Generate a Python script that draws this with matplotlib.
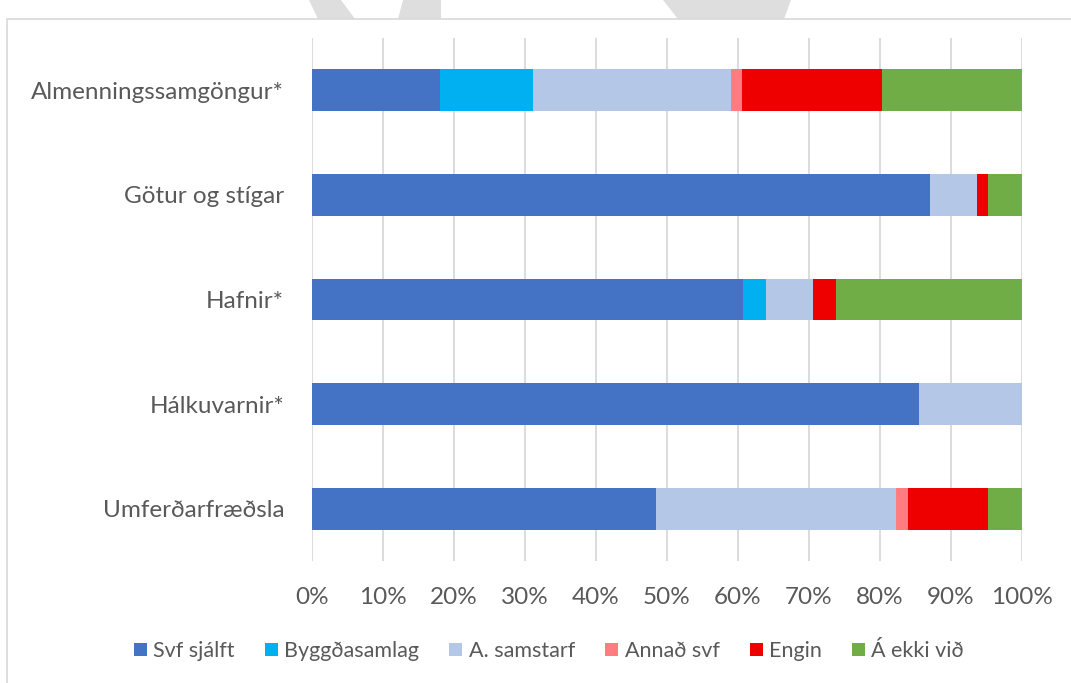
import matplotlib
matplotlib.use("Agg")
import matplotlib.pyplot as plt
from matplotlib.patches import Patch, Rectangle, Polygon
from matplotlib.ticker import PercentFormatter, MultipleLocator

plt.rcParams['font.family'] = ['Lato', 'DejaVu Sans']

categories = ["Almenningssamgöngur*", "Götur og stígar", "Hafnir*", "Hálkuvarnir*", "Umferðarfræðsla"]
series_names = ["Svf sjálft", "Byggðasamlag", "A. samstarf", "Annað svf", "Engin", "Á ekki við"]
svf_sjalft   = [18.0, 87.1, 60.7, 85.5, 48.4]
byggdasamlag = [13.1,  0.0,  3.3,  0.0,  0.0]
a_samstarf   = [27.9,  6.5,  6.5, 14.5, 33.9]
annad_svf    = [ 1.6,  0.0,  0.0,  0.0,  1.6]
engin        = [19.7,  1.6,  3.3,  0.0, 11.3]
a_ekki_vid   = [19.7,  4.8, 26.2,  0.0,  4.8]
colors = ["#4472C4", "#00B0F0", "#B4C7E7", "#FF7C80", "#EE0000", "#70AD47"]

series = [svf_sjalft, byggdasamlag, a_samstarf, annad_svf, engin, a_ekki_vid]

W, H = 1071, 683
fig = plt.figure(figsize=(W/100, H/100), dpi=100)

# faint watermark fragments above chart border
wm = "#DEDEDE"
for poly in [[(309, 0), (341, 0), (355, 19), (318, 19)],
             [(403, 0), (441, 0), (441, 19), (398, 19)],
             [(663, 0), (791, 0), (784, 19), (678, 19)]]:
    fig.patches.append(Polygon([(x / W, 1 - y / H) for x, y in poly], closed=True,
                               transform=fig.transFigure, facecolor=wm, edgecolor='none', zorder=0))
# chart area border
fig.patches.append(Rectangle((7 / W, -0.05), 1.2, 1 - 19 / H + 0.05, transform=fig.transFigure,
                             facecolor='white', edgecolor='#D9D9D9', linewidth=1.2, zorder=1))

ax = fig.add_axes([312 / W, 1 - 561 / H, (1022 - 312) / W, (561 - 38) / H])
ax.set_zorder(2)
ax.patch.set_alpha(0)

y = list(range(len(categories)))
left = [0.0] * len(categories)
for name, vals, c in zip(series_names, series, colors):
    ax.barh(y, vals, left=left, height=0.40, color=c, label=name, zorder=3)
    left = [l + v for l, v in zip(left, vals)]

ax.set_xlim(0, 100)
ax.set_ylim(len(categories) - 0.5, -0.5)
ax.set_yticks(y)
ax.set_yticklabels(categories)
ax.xaxis.set_major_locator(MultipleLocator(10))
ax.xaxis.set_major_formatter(PercentFormatter(100, decimals=0))
ax.grid(axis='x', color='#D9D9D9', linewidth=1.3, zorder=0)
for s in ax.spines.values():
    s.set_visible(False)
ax.tick_params(axis='both', length=0, labelcolor='#595959', labelsize=17.5)
ax.tick_params(axis='y', pad=20)
ax.tick_params(axis='x', pad=19)

handles = [Patch(facecolor=c, edgecolor='none', label=n) for n, c in zip(series_names, colors)]
fig.legend(handles=handles, loc='center', bbox_to_anchor=(549 / W, 1 - 651 / H), ncol=6,
           frameon=False, fontsize=15.5, labelcolor='#595959', handlelength=0.6, handleheight=0.6,
           handletextpad=0.3, columnspacing=1.4)

fig.savefig("out.png", dpi=100)
